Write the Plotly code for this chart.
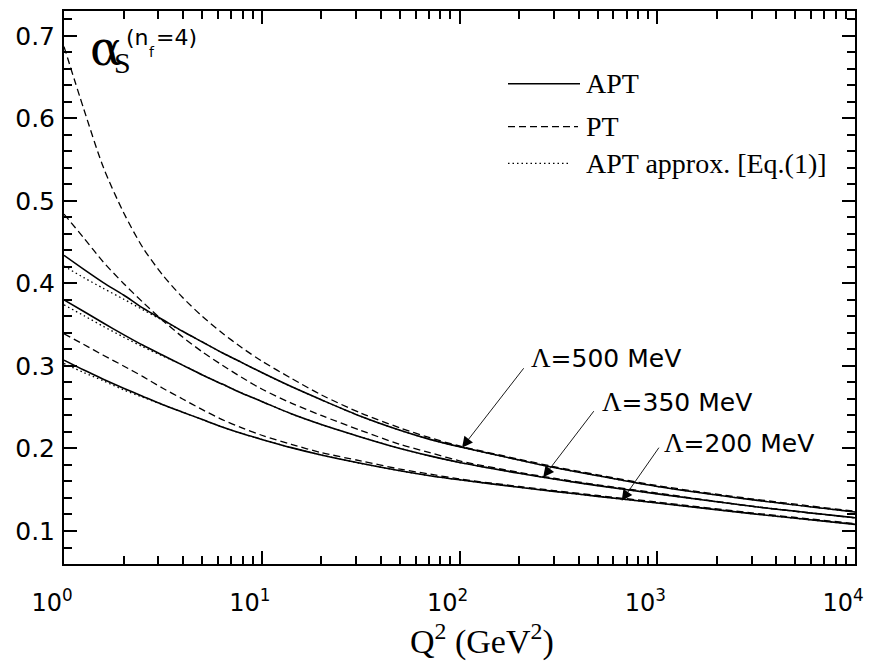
import math
import plotly.graph_objects as go

# ---------------- data ----------------
Q2 = [1, 1.26, 1.58, 2, 2.51, 3.16, 3.98, 5.01, 6.31, 7.94, 10, 14.1, 20, 31.6, 50, 70.8, 100, 200, 300, 500, 1000, 3000, 10000]

apt_500 = [0.434, 0.417, 0.401, 0.386, 0.370, 0.356, 0.342, 0.329, 0.316, 0.304, 0.292, 0.275, 0.259, 0.239, 0.222, 0.211, 0.202, 0.186, 0.177, 0.167, 0.154, 0.138, 0.123]
apt_350 = [0.380, 0.366, 0.352, 0.338, 0.325, 0.313, 0.301, 0.289, 0.278, 0.267, 0.257, 0.242, 0.229, 0.214, 0.200, 0.191, 0.183, 0.170, 0.163, 0.155, 0.145, 0.130, 0.116]
apt_200 = [0.307, 0.295, 0.284, 0.273, 0.263, 0.253, 0.244, 0.235, 0.226, 0.218, 0.211, 0.201, 0.192, 0.182, 0.173, 0.167, 0.162, 0.153, 0.148, 0.142, 0.134, 0.121, 0.108]

pt_500 = [0.687, 0.611, 0.541, 0.486, 0.443, 0.410, 0.383, 0.360, 0.340, 0.322, 0.306, 0.285, 0.265, 0.243, 0.225, 0.213, 0.203, 0.187, 0.178, 0.168, 0.155, 0.139, 0.124]
pt_350 = [0.484, 0.455, 0.426, 0.400, 0.377, 0.355, 0.335, 0.317, 0.301, 0.286, 0.272, 0.255, 0.240, 0.222, 0.205, 0.195, 0.185, 0.171, 0.164, 0.156, 0.146, 0.130, 0.116]
pt_200 = [0.339, 0.326, 0.313, 0.300, 0.287, 0.273, 0.260, 0.247, 0.235, 0.225, 0.216, 0.205, 0.195, 0.185, 0.175, 0.169, 0.163, 0.154, 0.149, 0.143, 0.135, 0.122, 0.109]

approx_500 = [0.421, 0.407, 0.394, 0.381, 0.368, 0.355, 0.342, 0.329, 0.316, 0.304, 0.292, 0.275, 0.259, 0.239, 0.222, 0.211, 0.202, 0.186, 0.177, 0.167, 0.154, 0.138, 0.123]
approx_350 = [0.374, 0.361, 0.348, 0.335, 0.323, 0.312, 0.301, 0.289, 0.278, 0.267, 0.257, 0.242, 0.229, 0.214, 0.200, 0.191, 0.183, 0.170, 0.163, 0.155, 0.145, 0.130, 0.116]
approx_200 = [0.303, 0.292, 0.282, 0.271, 0.262, 0.253, 0.244, 0.235, 0.226, 0.218, 0.211, 0.201, 0.192, 0.182, 0.173, 0.167, 0.162, 0.153, 0.148, 0.142, 0.134, 0.121, 0.108]

x_tick_vals = [1, 10, 100, 1000, 10000]
x_tick_labels = ["10<sup>0</sup>", "10<sup>1</sup>", "10<sup>2</sup>", "10<sup>3</sup>", "10<sup>4</sup>"]
y_tick_vals = [0.1, 0.2, 0.3, 0.4, 0.5, 0.6, 0.7]
y_tick_labels = ["0.1", "0.2", "0.3", "0.4", "0.5", "0.6", "0.7"]

legend_labels = ["APT", "PT", "APT approx. [Eq.(1)]"]
lambda_labels = ["=500 MeV", "=350 MeV", "=200 MeV"]
# arrow head (Q2, alpha) and tail (Q2, alpha) for each Lambda label
arrow_heads = [(103, 0.201), (265, 0.165), (661, 0.1365)]
arrow_tails = [(214, 0.299), (484, 0.247), (1032, 0.2028)]
label_pos = [(225, 0.310), (515, 0.2566), (1060, 0.2072)]

# ---------------- figure ----------------
# the page body adds an 8px offset; plot area in page pixels: x 64..855, y 9..564
OFF = 8
W, H = 883 - OFF, 670 - OFF
L, R, T, B = 56, 28, 1, 106
PW, PH = W - L - R, H - T - B
Y_TOP = 0.7 - ((T + OFF) - 34) / 830.0

def px(xp):
    return (xp - OFF - L) / PW

def py(yp):
    return (OFF + T + PH - yp) / PH

SANS = "DejaVu Sans"
SERIF = "Liberation Serif"

fig = go.Figure()

DOT = "1.5px,3px"
DASH = "7px,4px"

for ys in (approx_500, approx_350, approx_200):
    fig.add_trace(go.Scatter(x=Q2, y=ys, mode="lines", line=dict(color="black", width=1.3, dash=DOT, shape="spline", smoothing=0.8),
                             showlegend=False, hoverinfo="skip"))
for ys in (apt_500, apt_350, apt_200):
    fig.add_trace(go.Scatter(x=Q2, y=ys, mode="lines", line=dict(color="black", width=1.6, shape="spline", smoothing=0.8),
                             showlegend=False, hoverinfo="skip"))
for ys in (pt_500, pt_350, pt_200):
    fig.add_trace(go.Scatter(x=Q2, y=ys, mode="lines", line=dict(color="black", width=1.3, dash=DASH, shape="spline", smoothing=0.8),
                             showlegend=False, hoverinfo="skip"))

minor_vals = [m * 10 ** d for d in range(0, 4) for m in range(2, 10)]

fig.update_xaxes(
    type="log", range=[0, 4],
    showline=True, linecolor="black", linewidth=2, mirror="allticks",
    ticks="inside", ticklen=13, tickwidth=1.6, tickcolor="black",
    tickvals=x_tick_vals, ticktext=x_tick_labels,
    tickfont=dict(family=SANS, size=24, color="black"),
    ticklabelstandoff=16, ticklabelshift=-12,
    minor=dict(ticks="inside", ticklen=8, tickwidth=1.6, tickcolor="black", tickvals=minor_vals, showgrid=False),
    showgrid=False, zeroline=False,
)
fig.update_yaxes(
    range=[0.06, Y_TOP],
    showline=True, linecolor="black", linewidth=2, mirror="allticks",
    ticks="inside", ticklen=13, tickwidth=1.6, tickcolor="black",
    tickvals=y_tick_vals, ticktext=y_tick_labels,
    tickfont=dict(family=SANS, size=25, color="black"),
    ticklabelstandoff=2,
    minor=dict(ticks="inside", ticklen=8, tickwidth=1.6, tickcolor="black", dtick=0.02, tick0=0, showgrid=False),
    showgrid=False, zeroline=False,
)

annotations = []
shapes = []

# x-axis title
annotations.append(dict(xref="paper", yref="paper", x=px(482), y=py(640), xanchor="center", yanchor="middle",
                        text="Q<sup>2</sup> (GeV<sup>2</sup>)", showarrow=False,
                        font=dict(family=SERIF, size=34, color="black")))

# y-axis label inside the plot
annotations += [
    dict(xref="paper", yref="paper", x=px(88), y=py(46), xanchor="left", yanchor="middle",
         text="α", showarrow=False, font=dict(family="DejaVu Serif", size=48, color="black")),
    dict(xref="paper", yref="paper", x=px(112), y=py(61), xanchor="left", yanchor="middle",
         text="S", showarrow=False, font=dict(family=SERIF, size=30, color="black")),
    dict(xref="paper", yref="paper", x=px(124), y=py(36), xanchor="left", yanchor="middle",
         text="(n", showarrow=False, font=dict(family=SANS, size=22, color="black")),
    dict(xref="paper", yref="paper", x=px(147), y=py(50), xanchor="left", yanchor="middle",
         text="f", showarrow=False, font=dict(family=SANS, size=14, color="black")),
    dict(xref="paper", yref="paper", x=px(154), y=py(36), xanchor="left", yanchor="middle",
         text="=4)", showarrow=False, font=dict(family=SANS, size=22, color="black")),
]

# legend (drawn manually)
leg_rows = [82, 125, 162]
leg_styles = [dict(dash="solid", width=1.6, end=580), dict(dash=DASH, width=1.3, end=578), dict(dash=DOT, width=1.3, end=568)]
for yrow, lab, st in zip(leg_rows, legend_labels, leg_styles):
    shapes.append(dict(type="line", xref="paper", yref="paper", x0=px(508), x1=px(st["end"]), y0=py(yrow), y1=py(yrow),
                       line=dict(color="black", width=st["width"], dash=st["dash"])))
    annotations.append(dict(xref="paper", yref="paper", x=px(584), y=py(yrow), xanchor="left", yanchor="middle",
                            text=lab, showarrow=False, font=dict(family=SERIF, size=28, color="black")))

# Lambda labels with arrows
for lab, head, tail, pos in zip(lambda_labels, arrow_heads, arrow_tails, label_pos):
    annotations.append(dict(x=math.log10(head[0]), y=head[1], ax=math.log10(tail[0]), ay=tail[1],
                            xref="x", yref="y", axref="x", ayref="y", text="", showarrow=True,
                            arrowhead=2, arrowsize=2.4, arrowwidth=0.9, arrowcolor="black", standoff=0))
    annotations.append(dict(x=math.log10(pos[0]), y=pos[1], xref="x", yref="y", xanchor="left", yanchor="middle",
                            showarrow=False,
                            text=f"<span style='font-family:{SERIF}; font-size:27px'>Λ</span>{lab}",
                            font=dict(family=SANS, size=25, color="black")))

fig.update_layout(
    width=W, height=H,
    margin=dict(l=L, r=R, t=T, b=B),
    paper_bgcolor="white", plot_bgcolor="white",
    showlegend=False,
    annotations=annotations, shapes=shapes,
)

fig.write_html("out.html")
